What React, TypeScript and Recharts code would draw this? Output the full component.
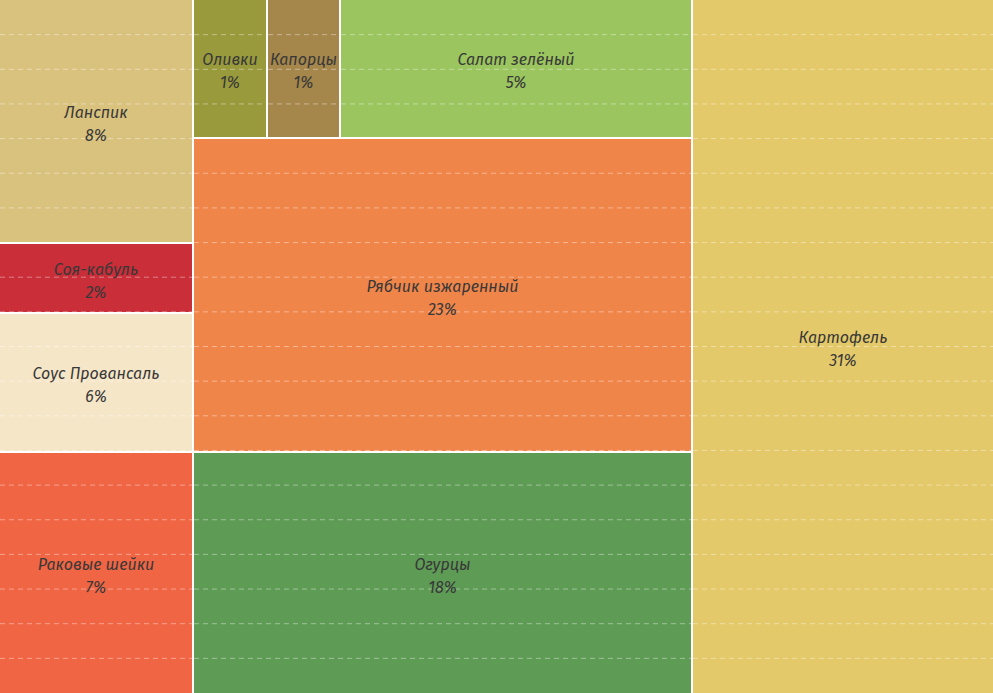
import React from "react";
import { Treemap } from "recharts";

// cells, in the order the treemap lays them out
const names = [
  "Ланспик",
  "Соя-кабуль",
  "Соус Провансаль",
  "Раковые шейки",
  "Оливки",
  "Капорцы",
  "Салат зелёный",
  "Рябчик изжаренный",
  "Огурцы",
  "Картофель",
];

// relative cell areas as measured on the picture (% of the whole)
const areas = [6.85, 1.96, 3.91, 6.78, 1.5, 1.47, 7.09, 22.66, 17.43, 30.35];

// percentages printed in the cells
const shares = [8, 2, 6, 7, 1, 1, 5, 23, 18, 31];

const colors: Record<string, string> = {
  "Ланспик": "#d9c27e",
  "Соя-кабуль": "#c92e39",
  "Соус Провансаль": "#f6e6c8",
  "Раковые шейки": "#f06544",
  "Оливки": "#999a3c",
  "Капорцы": "#a5864b",
  "Салат зелёный": "#9bc55e",
  "Рябчик изжаренный": "#f0854a",
  "Огурцы": "#5e9b55",
  "Картофель": "#e4c96a",
};

const leaf = (i: number) => ({ name: names[i], size: areas[i], share: shares[i] });

const data = [
  { name: "left", children: [0, 1, 2, 3].map(leaf) },
  {
    name: "middle",
    children: [{ name: "top", children: [4, 5, 6].map(leaf) }, leaf(7), leaf(8)],
  },
  leaf(9),
];

// chart is drawn 1px larger on every side so the outer white borders fall off-screen
const W = 995;
const H = 695;
const GRID_ROWS = 20;
const gridY = Array.from({ length: GRID_ROWS - 1 }, (_, k) => 1 + ((k + 1) * (H - 2)) / GRID_ROWS);

const Cell = (props: any) => {
  const { x, y, width, height, name, share, children } = props;
  if ((children && children.length) || share === undefined) return <g />;
  const cx = x + width / 2;
  const cy = y + height / 2;
  const lines = gridY.filter((gy) => gy > y + 1 && gy < y + height - 1);
  return (
    <g>
      <rect
        x={x}
        y={y}
        width={width}
        height={height}
        fill={colors[name]}
        stroke="#ffffff"
        strokeWidth={2}
      />
      {lines.map((gy) => (
        <line
          key={gy}
          x1={x + 1}
          x2={x + width - 1}
          y1={gy}
          y2={gy}
          stroke="#ffffff"
          strokeOpacity={0.4}
          strokeDasharray="5 4"
        />
      ))}
      <text
        x={cx}
        y={cy - 3.5}
        textAnchor="middle"
        fill="#383838"
        fontSize={16}
        fontStyle="italic"
        fontFamily="'Fira Sans', 'Noto Sans', sans-serif"
      >
        {name}
      </text>
      <text
        x={cx}
        y={cy + 19.5}
        textAnchor="middle"
        fill="#383838"
        fontSize={16}
        fontStyle="italic"
        fontFamily="'Fira Sans', 'Noto Sans', sans-serif"
      >
        {share}%
      </text>
    </g>
  );
};

export default function App() {
  return (
    <div style={{ position: "absolute", left: -1, top: -1, width: W, height: H }}>
      <Treemap
        width={W}
        height={H}
        data={data}
        dataKey="size"
        nameKey="name"
        aspectRatio={0.01}
        isAnimationActive={false}
        content={<Cell />}
      />
    </div>
  );
}
